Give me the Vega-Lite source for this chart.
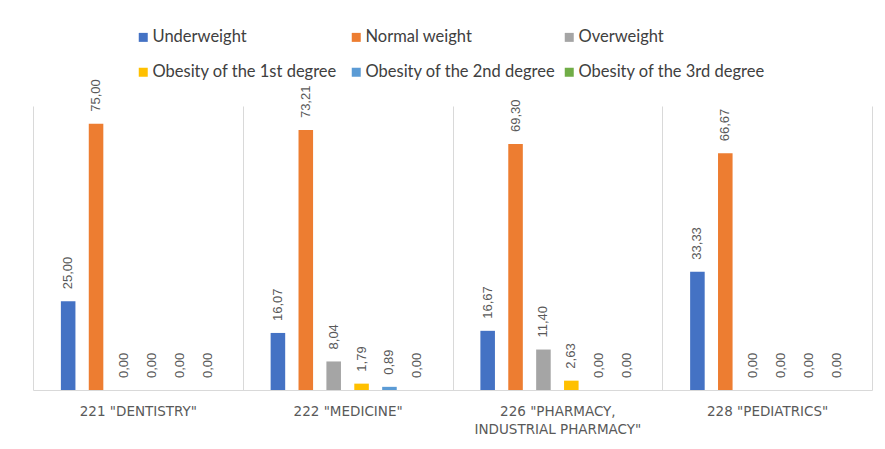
{
  "$schema": "https://vega.github.io/schema/vega-lite/v6.json",
  "width": 839,
  "height": 284,
  "autosize": {"type": "none"},
  "padding": {"left": 33, "top": 106, "right": 13, "bottom": 59},
  "background": "white",
  "config": {
    "locale": {"number": {"decimal": ",", "thousands": " ", "grouping": [3], "currency": ["", ""]}},
    "view": {"stroke": null}
  },
  "data": {
    "values": [
      {"program": "221 \"DENTISTRY\"", "category": "Underweight", "value": 25.00},
      {"program": "221 \"DENTISTRY\"", "category": "Normal weight", "value": 75.00},
      {"program": "221 \"DENTISTRY\"", "category": "Overweight", "value": 0.00},
      {"program": "221 \"DENTISTRY\"", "category": "Obesity of the 1st degree", "value": 0.00},
      {"program": "221 \"DENTISTRY\"", "category": "Obesity of the 2nd degree", "value": 0.00},
      {"program": "221 \"DENTISTRY\"", "category": "Obesity of the 3rd degree", "value": 0.00},
      {"program": "222 \"MEDICINE\"", "category": "Underweight", "value": 16.07},
      {"program": "222 \"MEDICINE\"", "category": "Normal weight", "value": 73.21},
      {"program": "222 \"MEDICINE\"", "category": "Overweight", "value": 8.04},
      {"program": "222 \"MEDICINE\"", "category": "Obesity of the 1st degree", "value": 1.79},
      {"program": "222 \"MEDICINE\"", "category": "Obesity of the 2nd degree", "value": 0.89},
      {"program": "222 \"MEDICINE\"", "category": "Obesity of the 3rd degree", "value": 0.00},
      {"program": "226 \"PHARMACY, INDUSTRIAL PHARMACY\"", "category": "Underweight", "value": 16.67},
      {"program": "226 \"PHARMACY, INDUSTRIAL PHARMACY\"", "category": "Normal weight", "value": 69.30},
      {"program": "226 \"PHARMACY, INDUSTRIAL PHARMACY\"", "category": "Overweight", "value": 11.40},
      {"program": "226 \"PHARMACY, INDUSTRIAL PHARMACY\"", "category": "Obesity of the 1st degree", "value": 2.63},
      {"program": "226 \"PHARMACY, INDUSTRIAL PHARMACY\"", "category": "Obesity of the 2nd degree", "value": 0.00},
      {"program": "226 \"PHARMACY, INDUSTRIAL PHARMACY\"", "category": "Obesity of the 3rd degree", "value": 0.00},
      {"program": "228 \"PEDIATRICS\"", "category": "Underweight", "value": 33.33},
      {"program": "228 \"PEDIATRICS\"", "category": "Normal weight", "value": 66.67},
      {"program": "228 \"PEDIATRICS\"", "category": "Overweight", "value": 0.00},
      {"program": "228 \"PEDIATRICS\"", "category": "Obesity of the 1st degree", "value": 0.00},
      {"program": "228 \"PEDIATRICS\"", "category": "Obesity of the 2nd degree", "value": 0.00},
      {"program": "228 \"PEDIATRICS\"", "category": "Obesity of the 3rd degree", "value": 0.00}
    ]
  },
  "encoding": {
    "x": {
      "field": "program",
      "type": "nominal",
      "sort": null,
      "scale": {"paddingInner": 0, "paddingOuter": 0},
      "axis": {
        "title": null,
        "labelAngle": 0,
        "labelExpr": "split(replace(datum.label, ', ', ',|'), '|')",
        "labelFont": "DejaVu Sans",
        "labelFontSize": 13.5,
        "labelColor": "#595959",
        "labelLineHeight": 18,
        "labelBaseline": "top",
        "labelPadding": 14,
        "ticks": false,
        "tickBand": "extent",
        "grid": true,
        "gridColor": "#d9d9d9",
        "gridWidth": 1,
        "domainColor": "#d9d9d9",
        "domainWidth": 1
      }
    },
    "xOffset": {
      "field": "category",
      "type": "nominal",
      "sort": ["Underweight", "Normal weight", "Overweight", "Obesity of the 1st degree", "Obesity of the 2nd degree", "Obesity of the 3rd degree"],
      "scale": {"paddingInner": 0.478, "paddingOuter": 1.157}
    },
    "y": {
      "field": "value",
      "type": "quantitative",
      "scale": {"domain": [0, 80]},
      "axis": null
    }
  },
  "layer": [
    {
      "mark": {"type": "bar"},
      "encoding": {
        "color": {
          "field": "category",
          "type": "nominal",
          "scale": {
            "domain": ["Underweight", "Normal weight", "Overweight", "Obesity of the 1st degree", "Obesity of the 2nd degree", "Obesity of the 3rd degree"],
            "range": ["#4472C4", "#ED7D31", "#A5A5A5", "#FFC000", "#5B9BD5", "#70AD47"]
          },
          "legend": {
            "orient": "none",
            "direction": "horizontal",
            "legendX": 102,
            "legendY": -77,
            "columns": 3,
            "title": null,
            "symbolType": "square",
            "symbolSize": 81,
            "symbolStrokeWidth": 0,
            "labelFont": "Lato",
            "labelFontSize": 16.5,
            "labelColor": "#404040",
            "labelOffset": 1,
            "columnPadding": 5,
            "rowPadding": 18,
            "gridAlign": "all",
            "labelLimit": 300
          }
        }
      }
    },
    {
      "mark": {
        "type": "text",
        "angle": -90,
        "align": "left",
        "baseline": "middle",
        "dx": 12,
        "font": "Liberation Sans",
        "fontSize": 13,
        "color": "#595959"
      },
      "encoding": {
        "text": {"field": "value", "type": "quantitative", "format": ".2f"}
      }
    }
  ]
}
